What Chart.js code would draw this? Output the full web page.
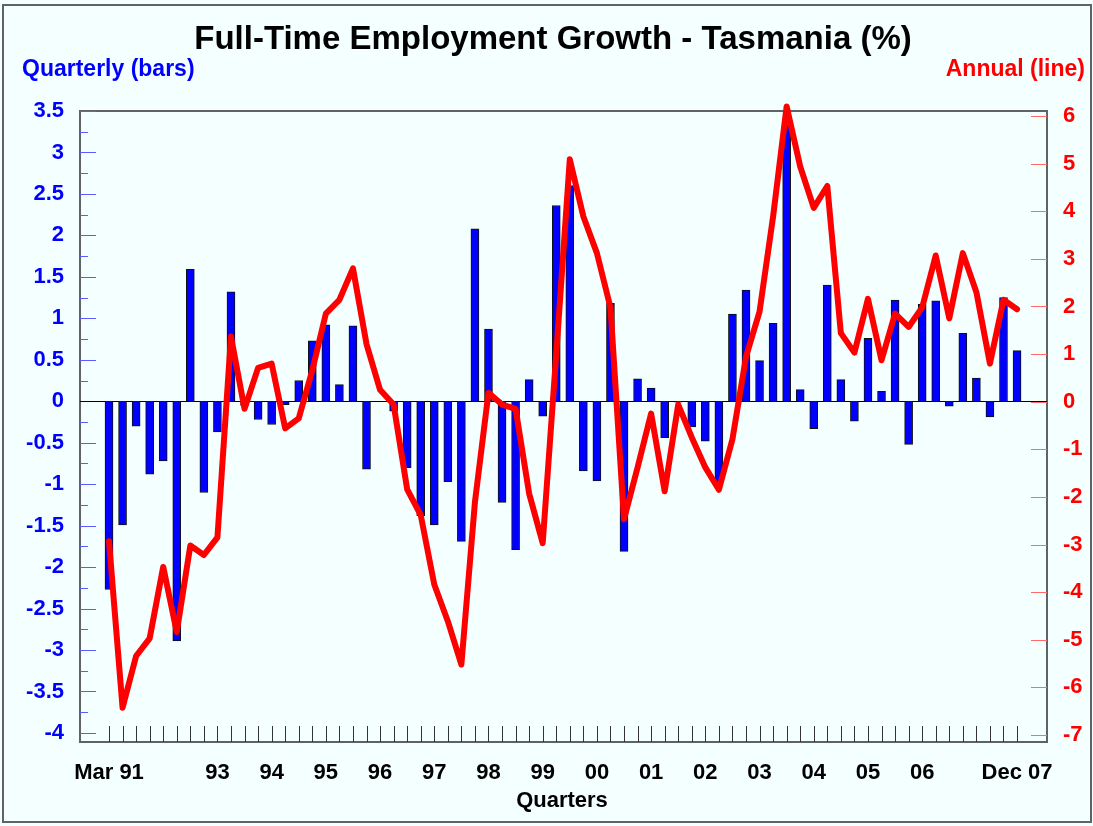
<!DOCTYPE html>
<html>
<head>
<meta charset="utf-8">
<script src="https://cdn.jsdelivr.net/npm/chart.js@4/dist/chart.umd.min.js"></script>
<style>
  html, body { margin: 0; padding: 0; background: #ffffff; }
  canvas { display: block; }
</style>
</head>
<body>
<canvas id="chart" width="1093" height="826"></canvas>
<script>
// Quarterly % change (bars, left axis), Mar 91 .. Dec 07
const quarterly = [
  -2.27, -1.49, -0.30, -0.88, -0.72, -2.89, 1.59, -1.10, -0.37, 1.32, -0.05, -0.22,
  -0.28, -0.04, 0.25, 0.73, 0.92, 0.20, 0.91, -0.82, 0.00, -0.12, -0.80, -1.38,
  -1.49, -0.97, -1.69, 2.08, 0.87, -1.22, -1.79, 0.26, -0.18, 2.36, 2.60, -0.84,
  -0.96, 1.18, -1.81, 0.27, 0.16, -0.44, -0.01, -0.31, -0.48, -1.00, 1.05, 1.34,
  0.49, 0.94, 3.33, 0.14, -0.33, 1.40, 0.26, -0.24, 0.76, 0.12, 1.22, -0.52,
  1.17, 1.21, -0.06, 0.82, 0.28, -0.19, 1.25, 0.61
];
// Annual % change (line, right axis)
const annual = [
  -2.93, -6.43, -5.34, -4.97, -3.47, -4.84, -3.02, -3.22, -2.85, 1.37, -0.15, 0.71,
  0.80, -0.56, -0.35, 0.66, 1.85, 2.14, 2.80, 1.21, 0.25, -0.06, -1.84, -2.38,
  -3.84, -4.61, -5.52, -2.11, 0.19, -0.06, -0.15, -1.93, -2.97, 1.00, 5.09, 3.89,
  3.12, 1.98, -2.47, -1.38, -0.25, -1.88, -0.06, -0.75, -1.38, -1.85, -0.79, 0.94,
  1.89, 3.89, 6.20, 4.94, 4.07, 4.53, 1.44, 1.03, 2.16, 0.87, 1.85, 1.57,
  1.98, 3.07, 1.75, 3.12, 2.30, 0.80, 2.14, 1.94
];
const xLabelIndex = [0, 8, 12, 16, 20, 24, 28, 32, 36, 40, 44, 48, 52, 56, 60, 67];
const xLabelText = ['Mar 91', '93', '94', '95', '96', '97', '98', '99', '00', '01', '02', '03', '04', '05', '06', 'Dec 07'];
const leftTicks = [-4, -3.5, -3, -2.5, -2, -1.5, -1, -0.5, 0, 0.5, 1, 1.5, 2, 2.5, 3, 3.5];
const rightTicks = [-7, -6, -5, -4, -3, -2, -1, 0, 1, 2, 3, 4, 5, 6];

const FONT = '"Liberation Sans", Arial, Helvetica, sans-serif';

const decor = {
  id: 'decor',
  beforeDraw(chart) {
    const c = chart.ctx;
    c.save();
    c.fillStyle = '#f4ffff';
    c.fillRect(0, 0, chart.width, chart.height);
    c.strokeStyle = '#5f6366';
    c.lineWidth = 2;
    c.strokeRect(3, 5, chart.width - 5, chart.height - 9);
    c.restore();
  },
  beforeDatasetsDraw(chart) {
    const c = chart.ctx;
    const a = chart.chartArea;
    const x = chart.scales.x, y = chart.scales.y, y2 = chart.scales.y2;
    c.save();
    // frame
    c.strokeStyle = '#5f6366';
    c.lineWidth = 2;
    c.strokeRect(a.left, a.top, a.right - a.left, a.bottom - a.top);
    // left ticks (major + minor), inward
    c.lineWidth = 1;
    c.strokeStyle = '#5c5cff';
    leftTicks.forEach((v, i) => {
      const py = Math.round(y.getPixelForValue(v)) + 0.5;
      c.beginPath(); c.moveTo(a.left, py); c.lineTo(a.left + 16, py); c.stroke();
      if (i < leftTicks.length - 1) {
        const m = Math.round(y.getPixelForValue((v + leftTicks[i + 1]) / 2)) + 0.5;
        c.beginPath(); c.moveTo(a.left, m); c.lineTo(a.left + 8, m); c.stroke();
      }
    });
    // right ticks
    c.strokeStyle = '#ff6a6a';
    rightTicks.forEach(v => {
      const py = Math.round(y2.getPixelForValue(v)) + 0.5;
      c.beginPath(); c.moveTo(a.right - 16, py); c.lineTo(a.right, py); c.stroke();
    });
    // bottom ticks, one per quarter
    c.strokeStyle = '#333333';
    quarterly.forEach((_, i) => {
      const px = Math.round(x.getPixelForValue(i)) + 0.5;
      c.beginPath(); c.moveTo(px, a.bottom); c.lineTo(px, a.bottom - 16); c.stroke();
    });
    // zero line
    c.strokeStyle = '#000000';
    const zy = Math.round(y.getPixelForValue(0)) + 0.5;
    c.beginPath(); c.moveTo(a.left, zy); c.lineTo(a.right, zy); c.stroke();
    c.restore();
  },
  afterDraw(chart) {
    const c = chart.ctx;
    c.save();
    c.textBaseline = 'middle';
    c.fillStyle = '#000000';
    c.textAlign = 'center';
    c.font = 'bold 33px ' + FONT;
    c.fillText('Full-Time Employment Growth - Tasmania (%)', 553, 40);
    c.font = 'bold 22px ' + FONT;
    c.fillText('Quarters', 562, 801);
    c.font = 'bold 23px ' + FONT;
    c.textAlign = 'left';
    c.fillStyle = '#0000ff';
    c.fillText('Quarterly (bars)', 22, 70);
    c.textAlign = 'right';
    c.fillStyle = '#ff0000';
    c.fillText('Annual (line)', 1085, 70);
    c.restore();
  }
};

new Chart(document.getElementById('chart').getContext('2d'), {
  type: 'bar',
  data: {
    datasets: [
      {
        type: 'line',
        label: 'Annual',
        data: annual.map((v, i) => ({ x: i, y: v })),
        yAxisID: 'y2',
        borderColor: '#ff0000',
        borderWidth: 6,
        borderJoinStyle: 'round',
        borderCapStyle: 'round',
        pointRadius: 0,
        tension: 0,
        clip: false,
        order: 0
      },
      {
        type: 'bar',
        label: 'Quarterly',
        data: quarterly.map((v, i) => ({ x: i, y: v })),
        yAxisID: 'y',
        backgroundColor: '#0000ff',
        borderColor: '#111111',
        borderWidth: 1,
        barThickness: 8,
        order: 1
      }
    ]
  },
  options: {
    responsive: false,
    animation: false,
    events: [],
    layout: { padding: { top: 111, left: 0, right: 0, bottom: 0 } },
    plugins: { legend: { display: false }, tooltip: { enabled: false }, title: { display: false } },
    scales: {
      x: {
        type: 'linear',
        position: 'bottom',
        offset: false,
        min: -2.14,
        max: 69.21,
        afterBuildTicks: s => { s.ticks = xLabelIndex.map(v => ({ value: v })); },
        afterFit: s => { s.height = 84; },
        grid: { display: false, drawTicks: false, offset: false },
        border: { display: false },
        ticks: {
          autoSkip: false,
          maxRotation: 0,
          padding: 18,
          color: '#000000',
          font: { family: FONT, size: 22, weight: 'bold' },
          callback: v => { const k = xLabelIndex.indexOf(v); return k >= 0 ? xLabelText[k] : ''; }
        }
      },
      y: {
        position: 'left',
        min: -4.109,
        max: 3.5,
        afterBuildTicks: s => { s.ticks = leftTicks.map(v => ({ value: v })); },
        afterFit: s => { s.width = 80; },
        grid: { display: false, drawTicks: false },
        border: { display: false },
        ticks: {
          padding: 16,
          color: '#0000ff',
          font: { family: FONT, size: 22, weight: 'bold' },
          callback: v => String(v)
        }
      },
      y2: {
        position: 'right',
        min: -7.147,
        max: 6.105,
        afterBuildTicks: s => { s.ticks = rightTicks.map(v => ({ value: v })); },
        afterFit: s => { s.width = 46; },
        grid: { display: false, drawTicks: false },
        border: { display: false },
        ticks: {
          padding: 16,
          color: '#ff0000',
          font: { family: FONT, size: 22, weight: 'bold' },
          callback: v => String(v)
        }
      }
    }
  },
  plugins: [decor]
});
</script>
</body>
</html>
